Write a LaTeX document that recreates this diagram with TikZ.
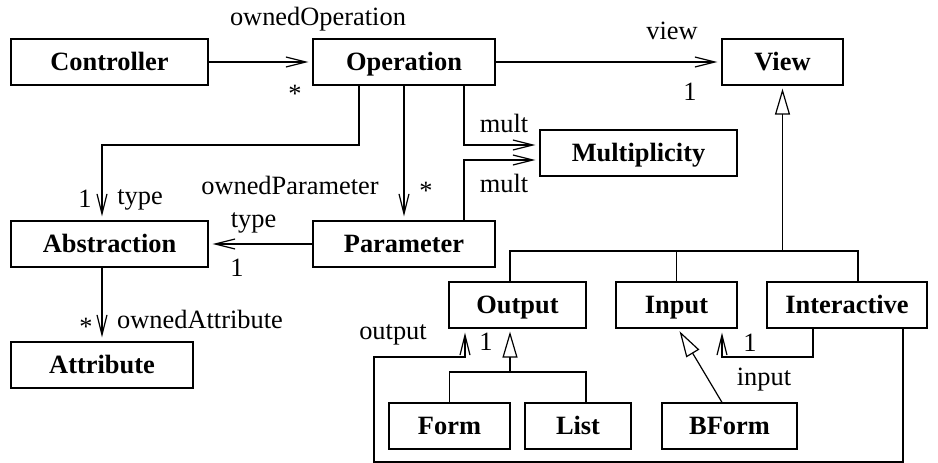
\documentclass[tikz,border=0pt]{standalone}
\usepackage{fontspec}
\setmainfont{Liberation Serif}
\usetikzlibrary{arrows.meta}

\tikzset{
  cls/.style={draw, line width=1.2pt, minimum height=46pt, inner sep=0pt,
    text height=20pt, text depth=4pt,
    font=\bfseries\fontsize{26.4}{30}\selectfont},
  lbl/.style={inner sep=0pt, font=\fontsize{26.4}{30}\selectfont},
  uml/.style={line width=1.2pt},
  assoc/.style={uml, -{Straight Barb[length=20pt,width=10pt]}, shorten >=4pt},
  inherit/.style={uml, -{Triangle[open,length=26pt,width=15pt]}, shorten >=3pt},
}

\begin{document}
\begin{tikzpicture}[x=1pt, y=-1pt]
            \useasboundingbox (0,0) rectangle (938,463);
            % Classes
            \node[cls, minimum width=197pt] (Controller) at (109.5,62) {Controller};
            \node[cls, minimum width=182pt] (Operation) at (404,62) {Operation};
            \node[cls, minimum width=121pt] (View) at (782.5,62) {View};
            \node[cls, minimum width=197pt] (Multiplicity) at (638.5,153) {Multiplicity};
            \node[cls, minimum width=197pt] (Abstraction) at (109.5,244) {Abstraction};
            \node[cls, minimum width=182pt] (Parameter) at (404,244) {Parameter};
            \node[cls, minimum width=182pt] (Attribute) at (102,365) {Attribute};
            \node[cls, minimum width=137pt] (Output) at (517.5,305) {Output};
            \node[cls, minimum width=121pt] (Input) at (676.5,305) {Input};
            \node[cls, minimum width=160pt] (Interactive) at (847,305) {Interactive};
            \node[cls, minimum width=121pt] (Form) at (449.5,426) {Form};
            \node[cls, minimum width=106pt] (List) at (578,426) {List};
            \node[cls, minimum width=135pt] (BForm) at (729.5,426) {BForm};
            % Controller -> Operation
            \draw[assoc] (Controller) -- (Operation);
            \node[lbl] (ownedOp) at (318,19.5) {ownedOperation};
            \node[lbl] (ownedOpMult) at (295,94) {*};
            % Operation -> View
            \draw[assoc] (Operation) -- (View);
            \node[lbl] (viewRole) at (672,31) {view};
            \node[lbl] (viewMult) at (690,92) {1};
            % Operation -> Abstraction
            \draw[assoc] ([xshift=-45pt]Operation.south) |- (102,145)
               -- ([xshift=-7.5pt]Abstraction.north);
            \node[lbl] (opTypeMult) at (85,199) {1};
            \node[lbl] (opTypeRole) at (140,200) {type};
            % Operation -> Parameter
            \draw[assoc] (Operation) -- (Parameter);
            \node[lbl] (ownedPar) at (290,185) {ownedParameter};
            \node[lbl] (ownedParMult) at (426,191) {*};
            % Operation, Parameter -> Multiplicity
            \draw[assoc] ([xshift=60pt]Operation.south) |- ([yshift=8pt]Multiplicity.west);
            \node[lbl] (opMult) at (504,123) {mult};
            \draw[assoc] ([xshift=60pt]Parameter.north) |- ([yshift=-7pt]Multiplicity.west);
            \node[lbl] (parMult) at (504,183) {mult};
            % Parameter -> Abstraction
            \draw[assoc] (Parameter) -- (Abstraction);
            \node[lbl] (parTypeRole) at (253.5,223) {type};
            \node[lbl] (parTypeMult) at (237,268) {1};
            % Abstraction -> Attribute
            \draw[assoc] ([xshift=-7.5pt]Abstraction.south) -- (Attribute.north);
            \node[lbl] (ownedAttrMult) at (86,327) {*};
            \node[lbl] (ownedAttr) at (200,319) {ownedAttribute};
            % Output, Input, Interactive specialise View
            \coordinate (viewBus) at (782.5,251);
            \draw[inherit] (viewBus) -- (View.south);
            \draw[uml] ([xshift=-7.5pt]Output.north) -- (510,251) -- (858,251)
               -- ([xshift=11pt]Interactive.north);
            \draw[uml] (Input.north) -- (676.5,251);
            % Form, List specialise Output
            \coordinate (outBus) at (510,372);
            \draw[inherit] (outBus) -- ([xshift=-7.5pt]Output.south);
            \draw[uml] (Form.north) |- (586,372) -- ([xshift=8pt]List.north);
            % BForm specialises Input
            \draw[inherit] ([xshift=-7.5pt]BForm.north) -- ([xshift=1.5pt]Input.south);
            % Interactive -> Input
            \draw[assoc] ([xshift=-34pt]Interactive.south) |- (722,357)
               -- ([xshift=45.5pt]Input.south);
            \node[lbl] (inMult) at (750,343) {1};
            \node[lbl] (inRole) at (764,380) {input};
            % Interactive -> Output
            \draw[assoc] ([xshift=56pt]Interactive.south) |- (374,462) |- (465,357)
               -- ([xshift=-52.5pt]Output.south);
            \node[lbl] (outRole) at (393,335) {output};
            \node[lbl] (outMult) at (486,342) {1};
         \end{tikzpicture}
\end{document}
